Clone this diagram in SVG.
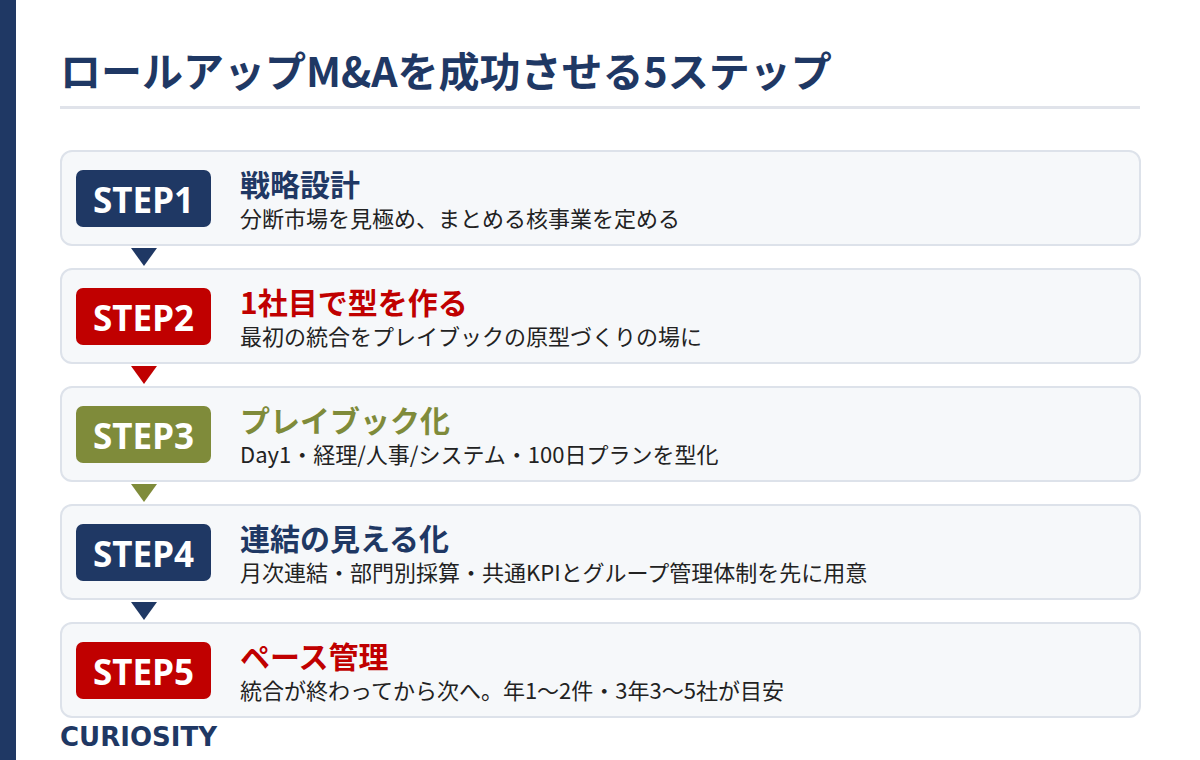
<svg xmlns="http://www.w3.org/2000/svg" width="1200" height="760" viewBox="0 0 1200 760">
<style>
text{font-family:"Noto Sans CJK JP","Noto Sans",sans-serif}
.card{fill:#f6f8fa;stroke:#dde2ea;stroke-width:2}
.badge-t{fill:#fff;font-family:"Noto Sans","Noto Sans CJK JP",sans-serif;font-size:35px;font-weight:700;text-anchor:middle}
.ttl{font-size:30px;font-weight:700}
.sub{font-size:22px;fill:#222}
.brand{font-family:"DejaVu Sans",sans-serif;font-size:26px;font-weight:700;fill:#1f3864}
.navy{fill:#1f3864}.red{fill:#c00000}.olive{fill:#7f8b3a}
</style>
<rect x="0" y="0" width="16" height="760" fill="#1f3864"/>
<text x="60" y="87" font-size="41" font-weight="700" fill="#1f3864">ロールアップM&amp;Aを成功させる5ステップ</text>
<rect x="60" y="106" width="1080" height="3" fill="#e0e3ea"/>
<g id="connectors">
<polygon points="131,248 157,248 144,266" class="navy"/>
<polygon points="131,366 157,366 144,384" class="red"/>
<polygon points="131,484 157,484 144,502" class="olive"/>
<polygon points="131,602 157,602 144,620" class="navy"/>
</g>
<g id="step1">
<rect class="card" x="61" y="151" width="1079" height="94" rx="11"/>
<rect class="navy" x="76" y="170" width="135" height="57" rx="7"/>
<text class="badge-t" x="143.500" y="213">STEP1</text>
<text class="ttl navy" x="240" y="196">戦略設計</text>
<text class="sub" x="240" y="227">分断市場を見極め、まとめる核事業を定める</text>
</g>
<g id="step2">
<rect class="card" x="61" y="269" width="1079" height="94" rx="11"/>
<rect class="red" x="76" y="288" width="135" height="57" rx="7"/>
<text class="badge-t" x="143.500" y="331">STEP2</text>
<text class="ttl red" x="240" y="314">1社目で型を作る</text>
<text class="sub" x="240" y="345">最初の統合をプレイブックの原型づくりの場に</text>
</g>
<g id="step3">
<rect class="card" x="61" y="387" width="1079" height="94" rx="11"/>
<rect class="olive" x="76" y="406" width="135" height="57" rx="7"/>
<text class="badge-t" x="143.500" y="449">STEP3</text>
<text class="ttl olive" x="240" y="432">プレイブック化</text>
<text class="sub" x="240" y="463">Day1・経理/人事/システム・100日プランを型化</text>
</g>
<g id="step4">
<rect class="card" x="61" y="505" width="1079" height="94" rx="11"/>
<rect class="navy" x="76" y="524" width="135" height="57" rx="7"/>
<text class="badge-t" x="143.500" y="567">STEP4</text>
<text class="ttl navy" x="240" y="550">連結の見える化</text>
<text class="sub" x="240" y="581">月次連結・部門別採算・共通KPIとグループ管理体制を先に用意</text>
</g>
<g id="step5">
<rect class="card" x="61" y="623" width="1079" height="94" rx="11"/>
<rect class="red" x="76" y="642" width="135" height="57" rx="7"/>
<text class="badge-t" x="143.500" y="685">STEP5</text>
<text class="ttl red" x="240" y="668">ペース管理</text>
<text class="sub" x="240" y="699">統合が終わってから次へ。年1～2件・3年3～5社が目安</text>
</g>
<text class="brand" x="60" y="746">CURIOSITY</text>
</svg>
